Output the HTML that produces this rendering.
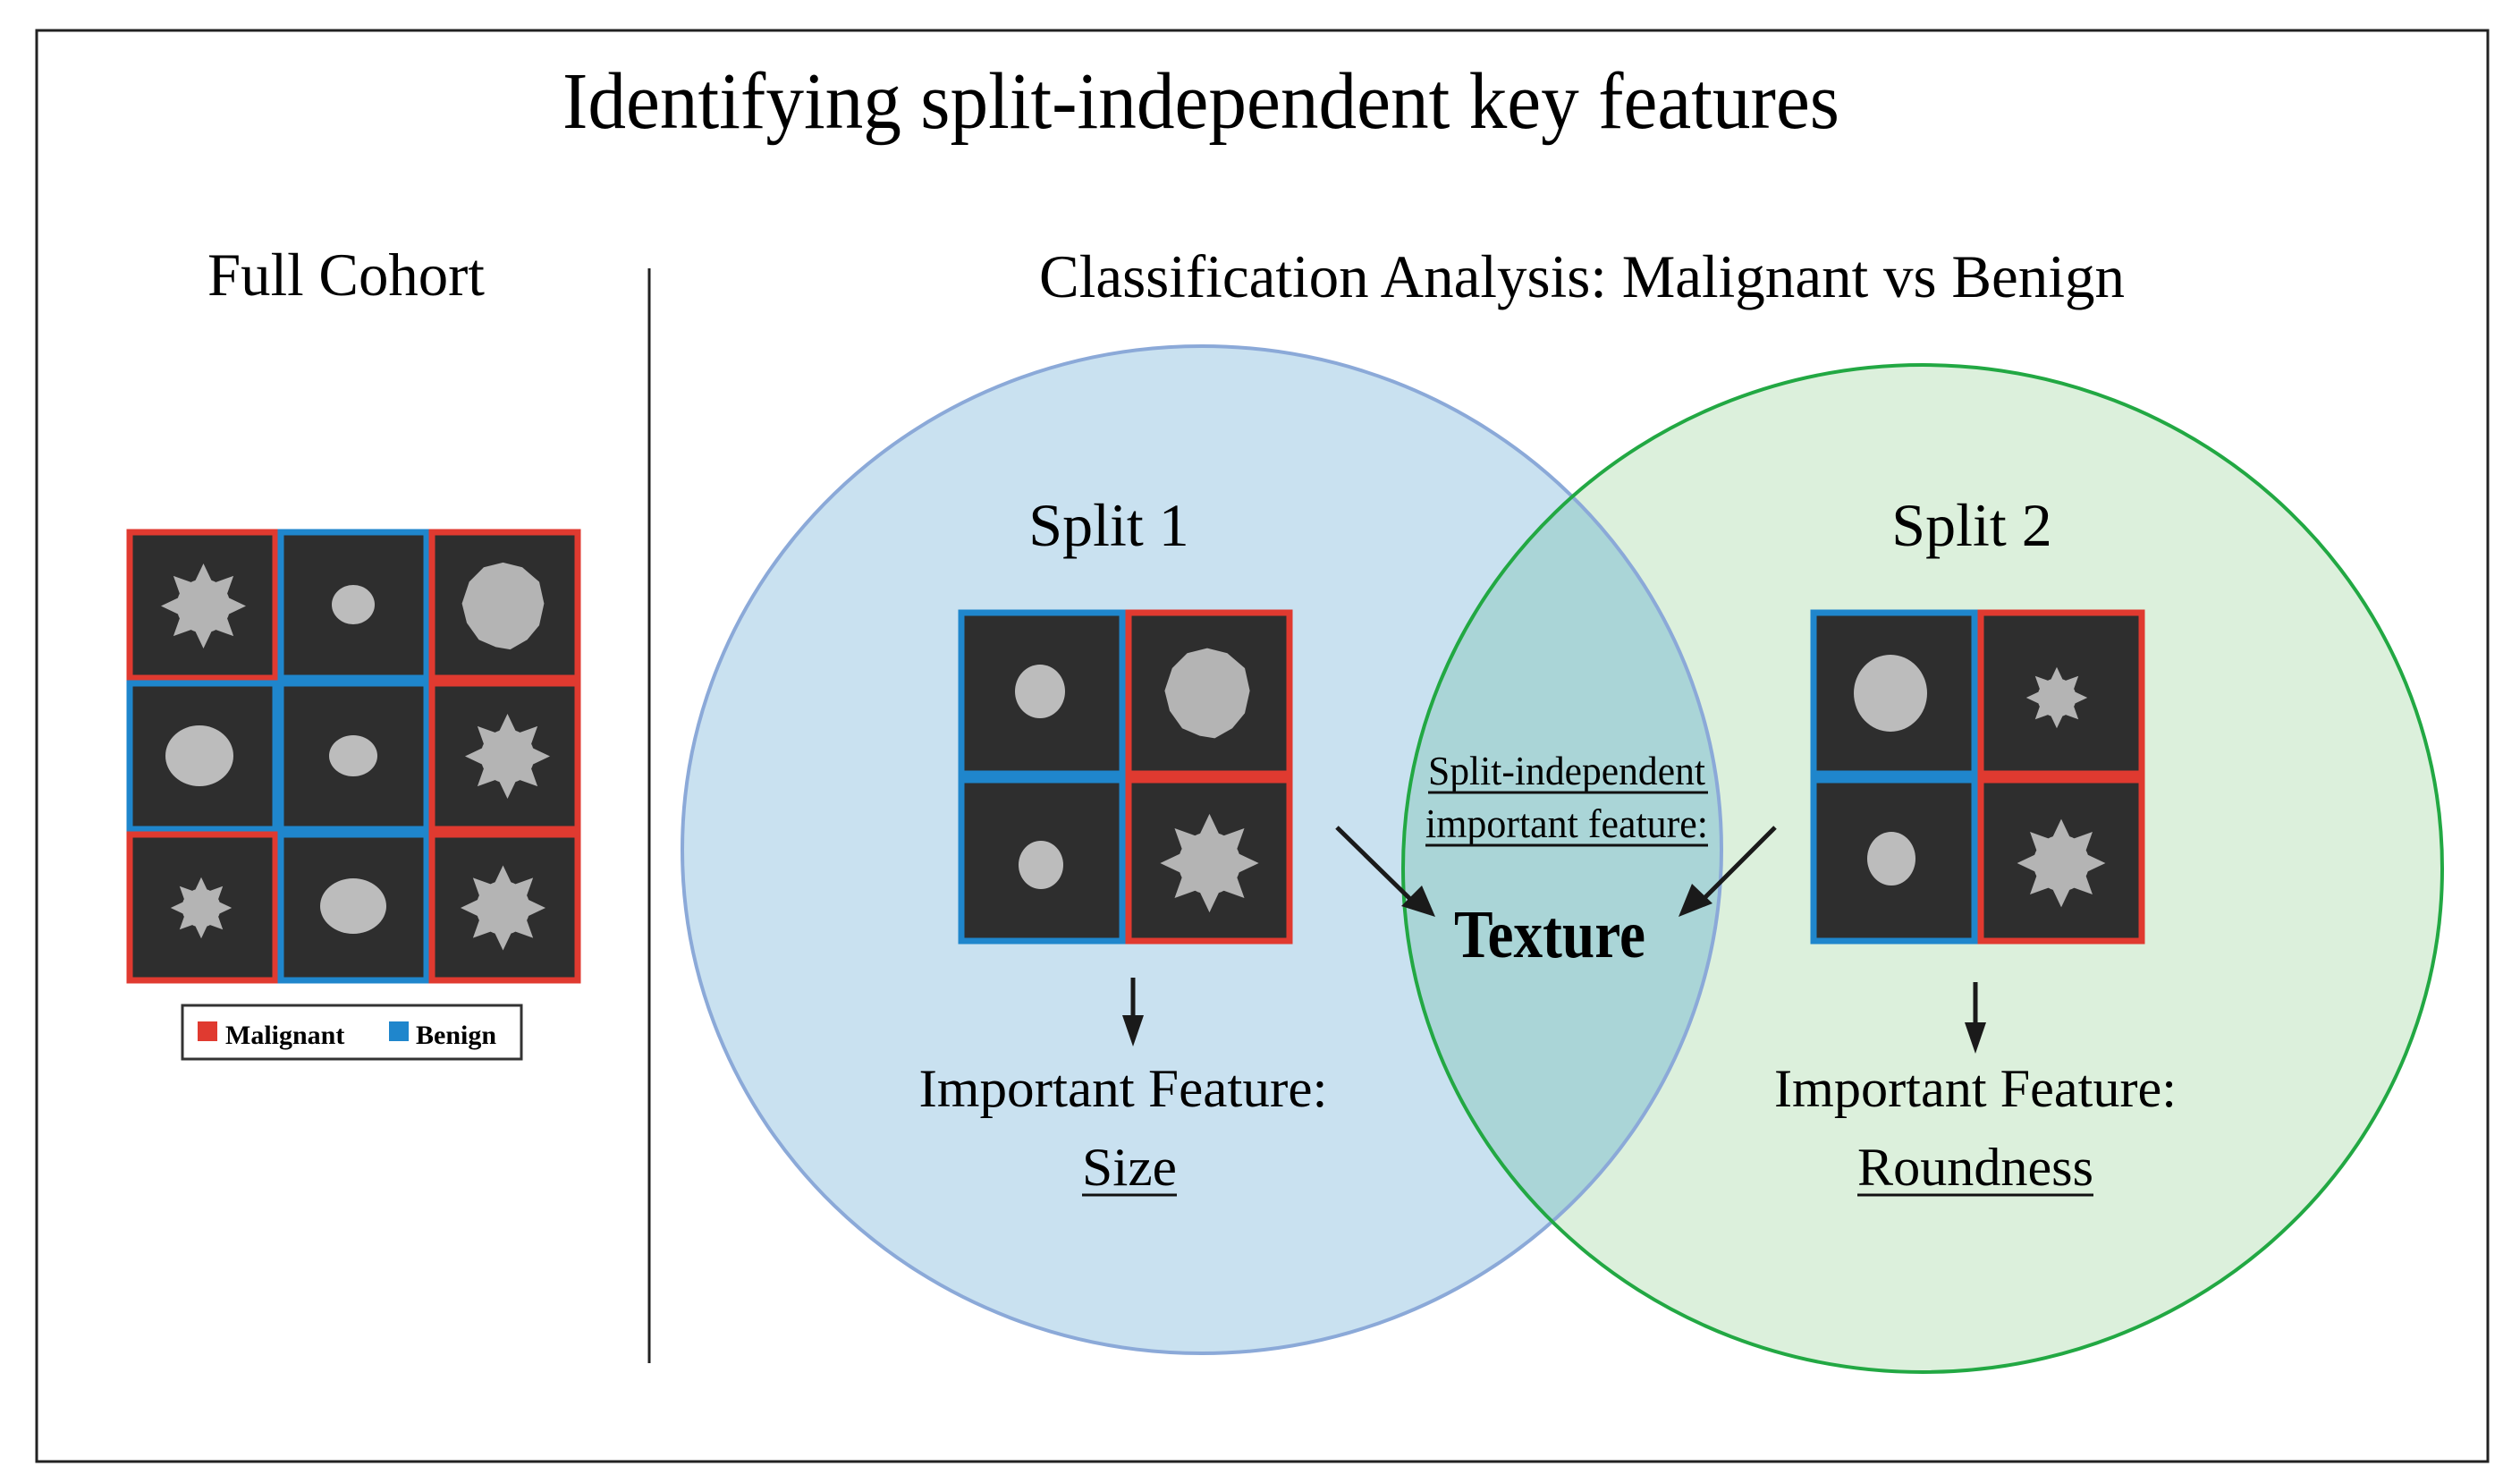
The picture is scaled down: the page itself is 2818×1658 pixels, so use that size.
<!DOCTYPE html>
<html><head><meta charset="utf-8"><style>html,body{margin:0;padding:0;background:#fff}svg{display:block}</style></head>
<body>
<svg xmlns="http://www.w3.org/2000/svg" width="2818" height="1658" viewBox="0 0 2818 1658" font-family="Liberation Serif, serif">
<defs>
<symbol id="sp" viewBox="0 0 100 100"><polygon fill="#b4b4b4" points="88,50 70.3,58.4 76.9,76.9 58.4,70.3 50,88 41.6,70.3 23.1,76.9 29.7,58.4 12,50 29.7,41.6 23.1,23.1 41.6,29.7 50,12 58.4,29.7 76.9,23.1 70.3,41.6"/><circle cx="50" cy="50" r="24" fill="#b4b4b4"/></symbol>
<symbol id="lu" viewBox="0 0 100 100"><polygon fill="#b4b4b4" points="50,14 66,18 80,30 84,48 80,66 70,78 56,86 44,84 30,78 20,64 16,48 22,30 34,18"/></symbol>
</defs>
<rect x="0" y="0" width="2818" height="1658" fill="#fff"/>
<rect x="41" y="34" width="2741" height="1600" fill="none" stroke="#222" stroke-width="3"/>
<text x="1343" y="143" font-size="90" text-anchor="middle" textLength="1428" lengthAdjust="spacingAndGlyphs">Identifying split-independent key features</text>
<text x="387" y="330" font-size="68" text-anchor="middle" textLength="310" lengthAdjust="spacingAndGlyphs">Full Cohort</text>
<text x="1769" y="332" font-size="68" text-anchor="middle" textLength="1214" lengthAdjust="spacingAndGlyphs">Classification Analysis: Malignant vs Benign</text>
<line x1="726" y1="300" x2="726" y2="1524" stroke="#222" stroke-width="3"/>

<!-- Venn -->
<ellipse cx="1344" cy="950" rx="581" ry="563" fill="#c9e1f0"/>
<ellipse cx="2150" cy="971" rx="581" ry="563" fill="#dcf0dc"/>
<clipPath id="cb"><ellipse cx="1344" cy="950" rx="581" ry="563"/></clipPath>
<ellipse cx="2150" cy="971" rx="581" ry="563" fill="#aad5d7" clip-path="url(#cb)"/>
<ellipse cx="1344" cy="950" rx="581" ry="563" fill="none" stroke="#8ba9d8" stroke-width="4"/>
<ellipse cx="2150" cy="971" rx="581" ry="563" fill="none" stroke="#22a843" stroke-width="4"/>

<!-- Full cohort grid -->
<g stroke-width="7">
<rect x="145" y="595" width="163" height="163" fill="#2e2e2e" stroke="#e03a30"/>
<rect x="314" y="595" width="163" height="163" fill="#2e2e2e" stroke="#1f86cc"/>
<rect x="483" y="595" width="163" height="163" fill="#2e2e2e" stroke="#e03a30"/>
<rect x="145" y="764" width="163" height="163" fill="#2e2e2e" stroke="#1f86cc"/>
<rect x="314" y="764" width="163" height="163" fill="#2e2e2e" stroke="#1f86cc"/>
<rect x="483" y="764" width="163" height="163" fill="#2e2e2e" stroke="#e03a30"/>
<rect x="145" y="933" width="163" height="163" fill="#2e2e2e" stroke="#e03a30"/>
<rect x="314" y="933" width="163" height="163" fill="#2e2e2e" stroke="#1f86cc"/>
<rect x="483" y="933" width="163" height="163" fill="#2e2e2e" stroke="#e03a30"/>
</g>
<use href="#sp" x="165" y="615" width="125" height="125"/>
<ellipse cx="395" cy="676" rx="24" ry="22" fill="#bcbcbc"/>
<use href="#lu" x="495" y="610" width="135" height="135"/>
<ellipse cx="223" cy="845" rx="38" ry="34" fill="#bcbcbc"/>
<ellipse cx="395" cy="845" rx="27" ry="23" fill="#bcbcbc"/>
<use href="#sp" x="505" y="783" width="125" height="125"/>
<use href="#sp" x="180" y="970" width="90" height="90"/>
<ellipse cx="395" cy="1013" rx="37" ry="31" fill="#bcbcbc"/>
<use href="#sp" x="500" y="950" width="125" height="130"/>
<rect x="204" y="1124" width="379" height="60" fill="#fff" stroke="#333" stroke-width="3"/>
<rect x="221" y="1142" width="22" height="22" fill="#e03a30"/>
<text x="252" y="1167" font-size="30" font-weight="bold">Malignant</text>
<rect x="435" y="1142" width="22" height="22" fill="#1f86cc"/>
<text x="465" y="1167" font-size="30" font-weight="bold">Benign</text>

<!-- Split 1 -->
<text x="1240" y="610" font-size="68" text-anchor="middle">Split 1</text>
<g stroke-width="7">
<rect x="1075" y="685" width="180" height="180" fill="#2e2e2e" stroke="#1f86cc"/>
<rect x="1262" y="685" width="180" height="180" fill="#2e2e2e" stroke="#e03a30"/>
<rect x="1075" y="872" width="180" height="180" fill="#2e2e2e" stroke="#1f86cc"/>
<rect x="1262" y="872" width="180" height="180" fill="#2e2e2e" stroke="#e03a30"/>
</g>
<ellipse cx="1163" cy="773" rx="28" ry="30" fill="#bcbcbc"/>
<use href="#lu" x="1270" y="705" width="160" height="140"/>
<ellipse cx="1164" cy="967" rx="25" ry="27" fill="#bcbcbc"/>
<use href="#sp" x="1280" y="890" width="145" height="150"/>

<!-- Split 2 -->
<text x="2205" y="610" font-size="68" text-anchor="middle">Split 2</text>
<g stroke-width="7">
<rect x="2028" y="685" width="180" height="180" fill="#2e2e2e" stroke="#1f86cc"/>
<rect x="2215" y="685" width="180" height="180" fill="#2e2e2e" stroke="#e03a30"/>
<rect x="2028" y="872" width="180" height="180" fill="#2e2e2e" stroke="#1f86cc"/>
<rect x="2215" y="872" width="180" height="180" fill="#2e2e2e" stroke="#e03a30"/>
</g>
<ellipse cx="2114" cy="775" rx="41" ry="43" fill="#bcbcbc"/>
<use href="#sp" x="2255" y="735" width="90" height="90"/>
<ellipse cx="2115" cy="960" rx="27" ry="30" fill="#bcbcbc"/>
<use href="#sp" x="2240" y="895" width="130" height="140"/>

<!-- center -->
<text x="1752" y="877" font-size="46" text-anchor="middle" textLength="310" lengthAdjust="spacingAndGlyphs">Split-independent</text>
<line x1="1597" y1="886" x2="1910" y2="886" stroke="#111" stroke-width="3"/>
<text x="1752" y="936" font-size="46" text-anchor="middle" textLength="316" lengthAdjust="spacingAndGlyphs">important feature:</text>
<line x1="1594" y1="945" x2="1910" y2="945" stroke="#111" stroke-width="3"/>
<text x="1733" y="1070" font-size="76" font-weight="bold" text-anchor="middle" textLength="214" lengthAdjust="spacingAndGlyphs">Texture</text>

<!-- arrows -->
<g stroke="#1a1a1a" stroke-width="5" fill="#1a1a1a">
<line x1="1495" y1="925" x2="1582" y2="1010"/>
<polygon points="1605,1025 1567,1013 1590,990" stroke="none"/>
<line x1="1985" y1="925" x2="1900" y2="1010"/>
<polygon points="1877,1025 1892,988 1915,1010" stroke="none"/>
<line x1="1267" y1="1093" x2="1267" y2="1140"/>
<polygon points="1255,1135 1279,1135 1267,1170" stroke="none"/>
<line x1="2209" y1="1098" x2="2209" y2="1148"/>
<polygon points="2197,1143 2221,1143 2209,1178" stroke="none"/>
</g>
<text x="1256" y="1237" font-size="60" text-anchor="middle" textLength="457" lengthAdjust="spacingAndGlyphs">Important Feature:</text>
<text x="1263" y="1325" font-size="60" text-anchor="middle" textLength="106" lengthAdjust="spacingAndGlyphs">Size</text>
<line x1="1210" y1="1336" x2="1316" y2="1336" stroke="#111" stroke-width="3"/>
<text x="2209" y="1237" font-size="60" text-anchor="middle" textLength="450" lengthAdjust="spacingAndGlyphs">Important Feature:</text>
<text x="2209" y="1325" font-size="60" text-anchor="middle" textLength="264" lengthAdjust="spacingAndGlyphs">Roundness</text>
<line x1="2077" y1="1336" x2="2341" y2="1336" stroke="#111" stroke-width="3"/>
</svg>
</body></html>
